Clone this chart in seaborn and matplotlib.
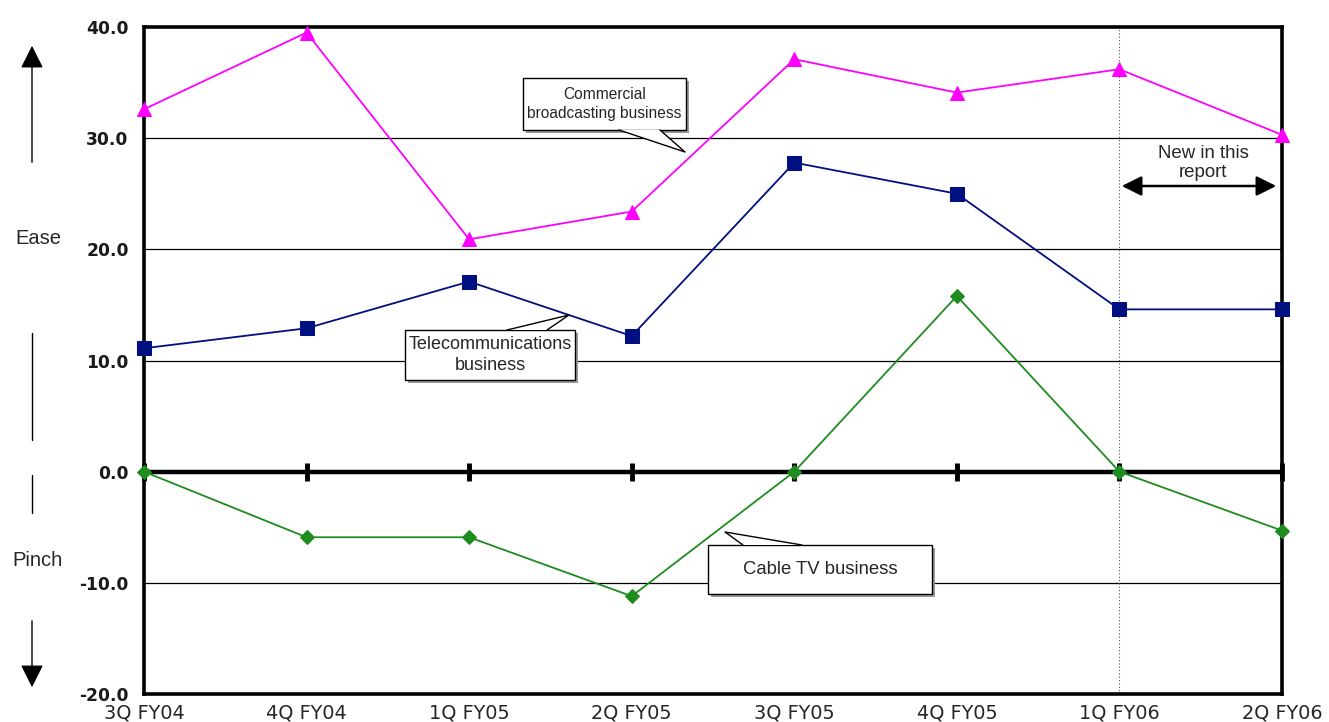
import numpy as np
import pandas as pd
import matplotlib.pyplot as plt
import seaborn as sns
from matplotlib.patches import Rectangle, Polygon, FancyArrowPatch
from matplotlib.lines import Line2D

quarters = ["3Q FY04", "4Q FY04", "1Q FY05", "2Q FY05", "3Q FY05", "4Q FY05", "1Q FY06", "2Q FY06"]
commercial = [32.6, 39.5, 20.9, 23.4, 37.1, 34.1, 36.2, 30.3]
telecom = [11.1, 12.9, 17.1, 12.2, 27.8, 25.0, 14.6, 14.6]
cable = [0.0, -5.9, -5.9, -11.2, 0.0, 15.8, 0.0, -5.3]
y_ticks = [-20, -10, 0, 10, 20, 30, 40]

pos = np.arange(len(quarters))
df = pd.DataFrame({
    "pos": np.tile(pos, 3),
    "value": commercial + telecom + cable,
    "series": ["commercial"] * 8 + ["telecom"] * 8 + ["cable"] * 8,
})

sns.set_style("white")
plt.rcParams["font.family"] = ["Liberation Sans", "DejaVu Sans"]

W, H = 1329, 722
fig = plt.figure(figsize=(W / 100, H / 100), dpi=100)
ax = fig.add_axes([144 / W, 1 - 694 / H, (1282 - 144) / W, (694 - 27) / H])

# grid + zero line
for v in y_ticks:
    if v not in (0, 40, -20):
        ax.axhline(v, color="black", lw=0.9, zorder=1)
ax.axvline(6, color="#555555", lw=0.8, ls=(0, (1, 2)), zorder=1)
zero = pd.DataFrame({"pos": pos, "value": np.zeros(len(pos))})
sns.lineplot(data=zero, x="pos", y="value", ax=ax, color="black", lw=3.2,
             marker="|", markersize=13, mew=3.5, mec="black", zorder=2, clip_on=False)

styles = {
    "commercial": dict(color="#FF00FF", marker="^", markersize=10),
    "telecom": dict(color="#001080", marker="s", markersize=10),
    "cable": dict(color="#1E8C1E", marker="D", markersize=7.5),
}
for name, st in styles.items():
    sns.lineplot(data=df[df.series == name], x="pos", y="value", ax=ax,
                 color=st["color"], lw=1.3, marker=st["marker"],
                 markersize=st["markersize"], markeredgecolor=st["color"],
                 zorder=4, clip_on=False)

ax.set_xlim(0, 7)
ax.set_ylim(-20, 40)
ax.set_xticks(pos)
ax.set_xticklabels(quarters, fontsize=13.9, family="DejaVu Sans")
ax.set_yticks(y_ticks)
ax.set_yticklabels([f"{v:.1f}" for v in y_ticks], fontsize=12.3, family="DejaVu Sans",
                   fontweight="bold", color="#1a1a1a")
ax.tick_params(axis="x", length=0, pad=7)
ax.tick_params(axis="y", length=0, pad=11)
ax.set_xlabel("")
ax.set_ylabel("")
for sp in ax.spines.values():
    sp.set_linewidth(2.6)
    sp.set_color("black")
    sp.set_zorder(3)


def fx(x):
    return x / W


def fy(y):
    return 1 - y / H


def callout(box, base, tip, text, size, ls):
    x0, y0, x1, y1 = box
    fig.patches.append(Rectangle((fx(x0 + 3), fy(y1 + 3)), fx(x1 - x0), (y1 - y0) / H,
                                 transform=fig.transFigure, fc="#9a9a9a", ec="none", zorder=5))
    fig.patches.append(Rectangle((fx(x0), fy(y1)), fx(x1 - x0), (y1 - y0) / H,
                                 transform=fig.transFigure, fc="white", ec="black", lw=1.0, zorder=6))
    pts = [(fx(base[0][0]), fy(base[0][1])), (fx(tip[0]), fy(tip[1])), (fx(base[1][0]), fy(base[1][1]))]
    fig.patches.append(Polygon(pts, closed=True, transform=fig.transFigure,
                               fc="white", ec="none", zorder=7))
    fig.lines.append(Line2D([p[0] for p in pts], [p[1] for p in pts],
                            transform=fig.transFigure, color="black", lw=1.0, zorder=8))
    fig.text(fx((x0 + x1) / 2), fy((y0 + y1) / 2), text, ha="center", va="center",
             fontsize=size, linespacing=ls, zorder=9)


callout((523, 78, 686, 130), [(619, 130), (660, 130)], (685, 152),
        "Commercial\nbroadcasting business", 11.2, 1.3)
callout((405, 330, 575, 380), [(507, 330), (547, 330)], (569, 315),
        "Telecommunications\nbusiness", 13.0, 1.3)
callout((708, 545, 932, 594), [(743, 545), (802, 545)], (725, 532),
        "Cable TV business", 13.3, 1.2)

# "New in this report"
fig.text(fx(1203), fy(163), "New in this\nreport", ha="center", va="center",
         fontsize=13.4, linespacing=1.2, zorder=9,
         bbox=dict(fc="white", ec="none", pad=1))
fig.patches.append(FancyArrowPatch((fx(1119), fy(186)), (fx(1279), fy(186)),
                                   transform=fig.transFigure, arrowstyle="<|-|>,head_length=12,head_width=6",
                                   color="black", lw=1.8, zorder=9))

# Ease / Pinch side markers
fig.text(fx(38), fy(238), "Ease", ha="center", va="center", fontsize=14.5)
fig.text(fx(38), fy(560), "Pinch", ha="center", va="center", fontsize=14.5)
fig.patches.append(FancyArrowPatch((fx(32), fy(165)), (fx(32), fy(43)),
                                   transform=fig.transFigure, arrowstyle="-|>,head_length=14,head_width=7",
                                   color="black", lw=1.0))
fig.patches.append(FancyArrowPatch((fx(32), fy(618)), (fx(32), fy(690)),
                                   transform=fig.transFigure, arrowstyle="-|>,head_length=14,head_width=7",
                                   color="black", lw=1.0))
fig.lines.append(Line2D([fx(32), fx(32)], [fy(333), fy(440)], transform=fig.transFigure,
                        color="black", lw=1.0))
fig.lines.append(Line2D([fx(32), fx(32)], [fy(475), fy(513)], transform=fig.transFigure,
                        color="black", lw=1.0))

fig.savefig("out.png", dpi=100, facecolor="white")
